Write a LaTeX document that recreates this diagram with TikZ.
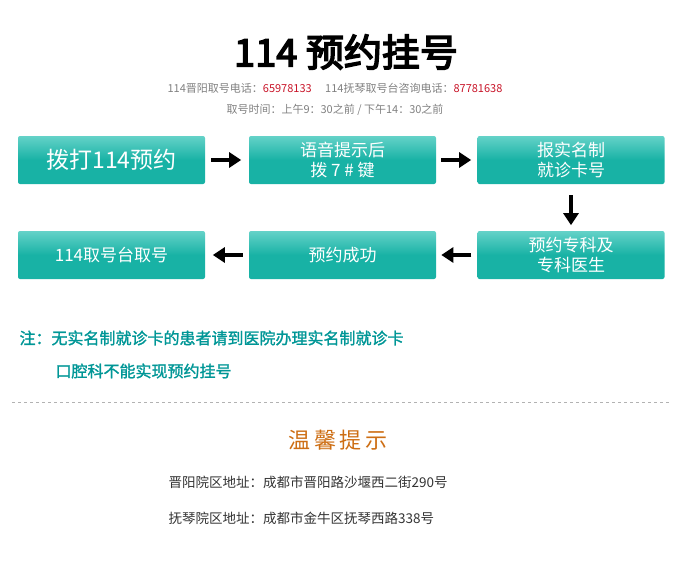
\documentclass[tikz,border=0pt]{standalone}
\usepackage{fontspec}
\setmainfont{Noto Sans CJK SC}
\newfontfamily\cjkbold[FakeBold=4]{Noto Sans CJK SC}
\newfontfamily\cjksemi[FakeBold=1.5]{Noto Sans CJK SC}
\usetikzlibrary{positioning,arrows.meta}
\definecolor{stepteal}{RGB}{24,178,165}
\definecolor{steplight}{RGB}{100,210,200}
\definecolor{noteteal}{RGB}{0,150,150}
\definecolor{tiporange}{RGB}{205,110,20}
\definecolor{telred}{RGB}{200,20,40}
\begin{document}
\begin{tikzpicture}[x=1pt,y=-1pt,
    stepbox/.style={rectangle,rounded corners=2pt,minimum width=187pt,minimum height=48pt,
      top color=steplight,bottom color=stepteal,middle color=stepteal,text=white,
      align=center,font=\fontsize{17}{20}\selectfont},
    flow/.style={-{Triangle[length=12pt,width=15pt]},line width=3.5pt,black}
  ]
  \useasboundingbox (0,0) rectangle (681,571);

  % header
  \node (title) at (346,52) {\cjkbold\fontsize{38}{42}\selectfont 114 预约挂号};
  \node[font=\fontsize{11}{13}\selectfont,text=gray] (tel) at (335,88)
    {114晋阳取号电话：\textcolor{telred}{65978133}\quad\ 114抚琴取号台咨询电话：\textcolor{telred}{87781638}};
  \node[font=\fontsize{11}{13}\selectfont,text=gray] (hours) at (335,110)
    {取号时间：上午9：30之前 / 下午14：30之前};

  % the steps
  \node[stepbox,font=\fontsize{23}{26}\selectfont] (s1) at (111.5,160) {拨打114预约};
  \node[stepbox] (s2) at (342.5,160) {语音提示后\\拨 7 \# 键};
  \node[stepbox] (s3) at (571,160) {报实名制\\就诊卡号};
  \node[stepbox] (s4) at (571,255) {预约专科及\\专科医生};
  \node[stepbox] (s5) at (342.5,255) {预约成功};
  \node[stepbox] (s6) at (111.5,255) {114取号台取号};

  % the arrows
  \draw[flow] (s1.east) ++(6,0) coordinate (a1) -- ++(30,0) coordinate (b1);
  \draw[flow] (s2.east) ++(5,0) coordinate (a2) -- ++(30,0) coordinate (b2);
  \draw[flow] (s3.south) ++(0,11) coordinate (a3) -- ++(0,30) coordinate (b3);
  \draw[flow] (s4.west) ++(-6,0) coordinate (a4) -- ++(-30,0) coordinate (b4);
  \draw[flow] (s5.west) ++(-6,0) coordinate (a5) -- ++(-30,0) coordinate (b5);

  % the note
  \node[anchor=west,text=noteteal,font=\cjksemi\fontsize{16}{19}\selectfont] (n1) at (16,338)
    {注：无实名制就诊卡的患者请到医院办理实名制就诊卡};
  \node[anchor=west,text=noteteal,font=\cjksemi\fontsize{16}{19}\selectfont] (n2) at (52,371)
    {口腔科不能实现预约挂号};
  \draw[gray!60,dashed] (12,402) -- (670,402);

  % the tips
  \node[text=tiporange,font=\fontsize{22}{26}\selectfont] (tip) at (338,440) {温\,馨\,提\,示};
  \node[anchor=west,font=\fontsize{13.5}{16}\selectfont,text=black!80] (ad1) at (165,482)
    {晋阳院区地址：成都市晋阳路沙堰西二街290号};
  \node[anchor=west,font=\fontsize{13.5}{16}\selectfont,text=black!80] (ad2) at (165,518)
    {抚琴院区地址：成都市金牛区抚琴西路338号};
\end{tikzpicture}
\end{document}
